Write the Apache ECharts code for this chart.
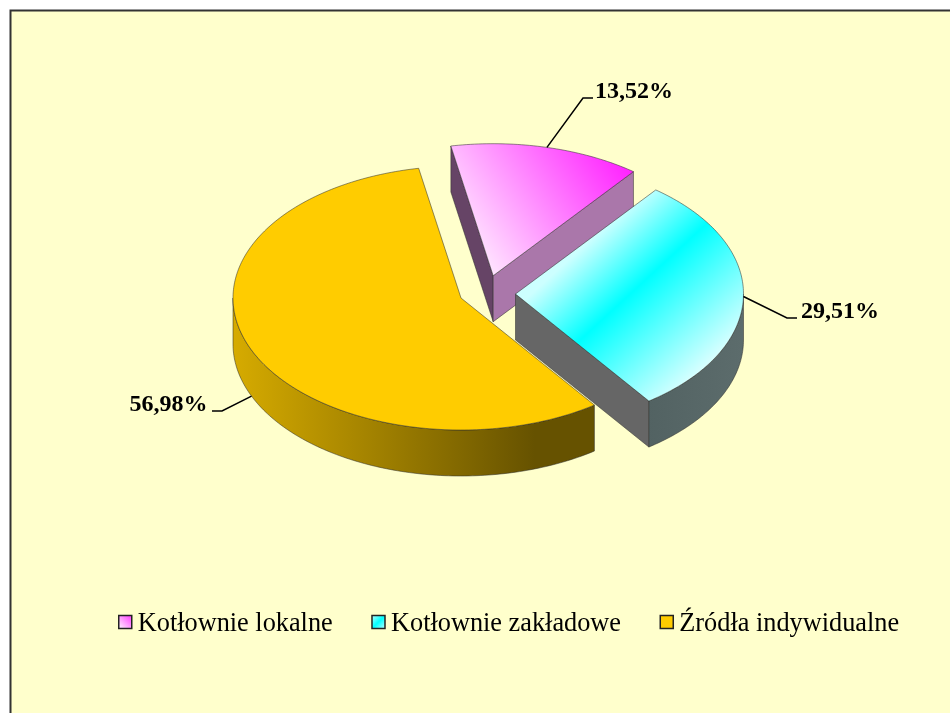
<!DOCTYPE html>
<html>
<head>
<meta charset="utf-8">
<style>html,body{margin:0;padding:0;background:#fff}#c{width:950px;height:713px}</style>
<script src="https://cdn.jsdelivr.net/npm/echarts@6/dist/echarts.min.js"></script>
</head>
<body>
<div id="c"></div>
<script>
const categories = ['Kotłownie lokalne', 'Kotłownie zakładowe', 'Źródła indywidualne'];
const shares = [13.52, 29.51, 56.98];

// Pie geometry (projection of a tilted, exploded 3D pie)
const RX = 228, RY = 132, DEPTH = 46, START_ANGLE = 349.3;
const CENTER = [487, 292];
const EXPLODE = [[6.2, -16.3], [28.5, 2], [-26, 6]];
const LABEL = [
  {elbow: [583, 98],  end: [593, 98],  x: 595, y: 91.5,  align: 'left',  onWall: false},
  {elbow: [787, 318], end: [797, 318], x: 801, y: 311.5, align: 'left',  onWall: false},
  {elbow: [222, 411], end: [212, 411], x: 207.5, y: 404.5, align: 'right', onWall: true}
];
const G = echarts.graphic.LinearGradient;
const STOPS = (a, b) => [{offset: 0, color: a}, {offset: 1, color: b}];
const STYLE = [
  {
    top: new G(470, 285, 634, 174, STOPS('#FFFFFF', '#FF22FF'), true),
    startFace: '#664466', endFace: '#AA77AA', wall: '#AA77AA',
    legend: new G(0, 1, 1, 0, STOPS('#FFFFFF', '#FF33FF'))
  },
  {
    top: new G(601, 230, 717, 356, [{offset: 0, color: '#CCFFFF'}, {offset: 0.39, color: '#00FFFF'}, {offset: 1, color: '#D8FFFF'}], true),
    startFace: '#666666', endFace: '#666666',
    wall: new G(646, 0, 743, 0, STOPS('#526262', '#5C6C6C'), true),
    legend: new G(0, 0, 1, 1, [{offset: 0, color: '#CCFFFF'}, {offset: 0.5, color: '#00FFFF'}, {offset: 1, color: '#CCFFFF'}])
  },
  {
    top: '#FFCC00', startFace: '#665200', endFace: '#665200',
    wall: new G(233, 0, 535, 0, STOPS('#D6AB00', '#665200'), true),
    legend: '#FFCC00'
  }
];
const EDGE = 'rgba(45,45,45,0.65)';

const total = shares.reduce((a, b) => a + b, 0);
const spans = shares.map(v => v / total * 360);
const starts = spans.map((_, i) => START_ANGLE + spans.slice(0, i).reduce((a, b) => a + b, 0));

function pt(tip, deg, dz) {
  const r = deg * Math.PI / 180;
  return [tip[0] + RX * Math.sin(r), tip[1] - RY * Math.cos(r) + (dz || 0)];
}
function arc(tip, a0, a1, dz) {
  const out = [];
  const n = Math.max(2, Math.ceil(Math.abs(a1 - a0)));
  for (let k = 0; k <= n; k++) out.push(pt(tip, a0 + (a1 - a0) * k / n, dz));
  return out;
}
function poly(points, fill) {
  return {type: 'polygon', shape: {points}, style: {fill, stroke: EDGE, lineWidth: 0.8}};
}
function fmt(v) { return v.toFixed(2).replace('.', ',') + '%'; }

function renderSlice(i) {
  return function () {
    const a0 = starts[i], a1 = a0 + spans[i];
    const tip = [CENTER[0] + EXPLODE[i][0], CENTER[1] + EXPLODE[i][1]];
    const tipLow = [tip[0], tip[1] + DEPTH];
    const kids = [];
    const cut = (deg, fill) => {
      const p = pt(tip, deg), q = pt(tip, deg, DEPTH);
      kids.push(poly([tip, p, q, tipLow], fill));
    };
    const sv = Math.cos((a0 - 90) * Math.PI / 180) < 0;
    const ev = Math.cos((a1 + 90) * Math.PI / 180) < 0;
    if (sv) cut(a0, STYLE[i].startFace);
    if (ev) cut(a1, STYLE[i].endFace);
    // Outer wall: the part of the rim facing the viewer (90..270 degrees, one turn later too)
    [0, 360].forEach(turn => {
      const w0 = Math.max(a0, 90 + turn), w1 = Math.min(a1, 270 + turn);
      if (w1 > w0) kids.push(poly(arc(tip, w0, w1, 0).concat(arc(tip, w1, w0, DEPTH)), STYLE[i].wall));
    });
    kids.push(poly([tip].concat(arc(tip, a0, a1, 0)), STYLE[i].top));

    // Leader line and value label
    const L = LABEL[i];
    const mid = a0 + spans[i] / 2;
    const anchor = pt(tip, mid, L.onWall ? DEPTH : 0);
    kids.push({type: 'polyline', shape: {points: [anchor, L.elbow, L.end]},
      style: {fill: 'none', stroke: '#000', lineWidth: 1.5}, z2: 5});
    kids.push({type: 'text', z2: 6, style: {
      text: fmt(shares[i]), x: L.x, y: L.y, textAlign: L.align, textVerticalAlign: 'middle',
      font: 'bold 24px "Liberation Serif"', fill: '#000'
    }});
    return {type: 'group', children: kids};
  };
}

const chart = echarts.init(document.getElementById('c'), null, {renderer: 'canvas'});
chart.setOption({
  animation: false,
  backgroundColor: '#FFFFFF',
  graphic: [{
    type: 'rect', z: -10, silent: true,
    shape: {x: 10.5, y: 10.5, width: 980, height: 760},
    style: {fill: '#FFFFCC', stroke: '#333333', lineWidth: 2}
  }],
  legend: {
    left: 113, top: 602, orient: 'horizontal', width: 834,
    itemWidth: 13, itemHeight: 13, itemGap: 38.5, selectedMode: false,
    formatter: name => '{t|' + name + '}',
    textStyle: {
      rich: {t: {fontFamily: 'Liberation Serif', fontSize: 26.3, color: '#000', padding: [4, 0, 0, 1], lineHeight: 30}}
    },
    data: categories.map((name, i) => ({
      name, icon: 'rect',
      itemStyle: {color: STYLE[i].legend, borderColor: '#222', borderWidth: 1.5}
    }))
  },
  series: categories.map((name, i) => ({
    type: 'custom', name, coordinateSystem: 'none', silent: true, z: 2 + i, clip: false,
    data: [{name, value: shares[i]}],
    itemStyle: {color: '#FFCC00'},
    renderItem: renderSlice(i)
  }))
});
</script>
</body>
</html>
